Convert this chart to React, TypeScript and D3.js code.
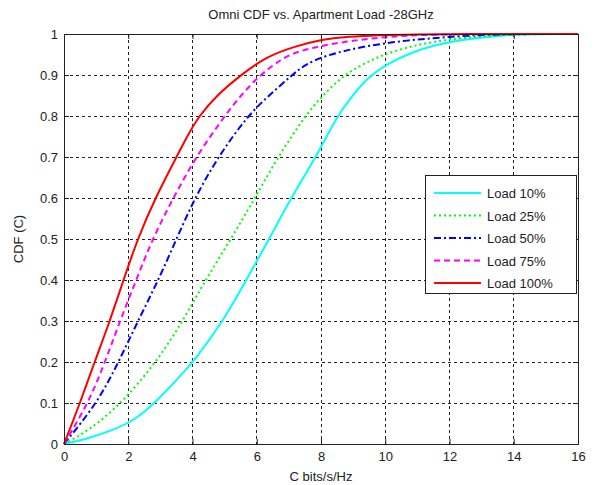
import React, { useEffect, useRef } from 'react';
import * as d3 from 'd3';

// values (C in bits/s/Hz, CDF)
const xTicks = [0, 2, 4, 6, 8, 10, 12, 14, 16];
const yTicks = [0, 0.1, 0.2, 0.3, 0.4, 0.5, 0.6, 0.7, 0.8, 0.9, 1];

const load10 = [[0, 0], [0.6, 0.01], [1.53, 0.034], [2.2, 0.058], [2.83, 0.1], [3.6, 0.164], [4.02, 0.2], [4.96, 0.3], [5.67, 0.4], [6.39, 0.5], [7.06, 0.6], [7.85, 0.7], [8.5, 0.8], [8.94, 0.846], [9.4, 0.89], [10.0, 0.925], [10.9, 0.959], [12.05, 0.983], [13.4, 0.995], [14.3, 1], [16, 1]];
const load25 = [[0, 0], [0.8, 0.034], [1.8, 0.1], [2.88, 0.2], [3.7, 0.3], [4.4, 0.4], [5.2, 0.5], [5.94, 0.6], [6.66, 0.7], [7.5, 0.8], [8.05, 0.85], [8.7, 0.9], [9.5, 0.935], [10.3, 0.96], [11.5, 0.983], [13, 0.995], [14.3, 1], [16, 1]];
const load50 = [[0, 0], [1.04, 0.1], [1.7, 0.2], [2.3, 0.3], [2.94, 0.4], [3.5, 0.5], [4.07, 0.6], [4.79, 0.7], [5.71, 0.8], [6.38, 0.85], [7.1, 0.9], [7.5, 0.925], [8.1, 0.947], [9.3, 0.97], [10.7, 0.985], [12, 0.993], [13.4, 1], [16, 1]];
const load75 = [[0, 0], [0.76, 0.1], [1.28, 0.2], [1.74, 0.3], [2.25, 0.4], [2.75, 0.5], [3.4, 0.6], [4.1, 0.7], [5.0, 0.8], [5.5, 0.85], [6.1, 0.9], [6.7, 0.935], [7.2, 0.958], [8.76, 0.983], [10.3, 0.995], [11.8, 1], [16, 1]];
const load100 = [[0, 0], [0.5, 0.1], [0.95, 0.2], [1.43, 0.3], [1.85, 0.4], [2.29, 0.5], [2.84, 0.6], [3.5, 0.7], [3.83, 0.75], [4.2, 0.8], [4.75, 0.85], [5.5, 0.9], [6.3, 0.945], [7.2, 0.97], [8, 0.986], [8.75, 0.993], [10.3, 1], [16, 1]];

const series = [
  { name: 'Load 10%', data: load10, color: '#00ffff', dash: null },
  { name: 'Load 25%', data: load25, color: '#00ff00', dash: '2,3' },
  { name: 'Load 50%', data: load50, color: '#0000ff', dash: '7,3,2,3' },
  { name: 'Load 75%', data: load75, color: '#ff00ff', dash: '6,4' },
  { name: 'Load 100%', data: load100, color: '#ff0000', dash: null },
];

const W = 596;
const H = 485;
const margin = { top: 34, right: 18, bottom: 41, left: 64 };
const font = '"Liberation Sans", Arial, sans-serif';

const App = () => {
  const svgRef = useRef<SVGSVGElement>(null);

  useEffect(() => {
    const svg = d3.select(svgRef.current);
    svg.selectAll('*').remove();
    const width = W - margin.left - margin.right;
    const height = H - margin.top - margin.bottom;

    const x = d3.scaleLinear().domain([0, 16]).range([0, width]);
    const y = d3.scaleLinear().domain([0, 1]).range([height, 0]);

    svg.append('rect').attr('width', W).attr('height', H).attr('fill', '#fff');
    const g = svg.append('g').attr('transform', `translate(${margin.left},${margin.top})`);

    // grid
    g.selectAll('.gx').data(xTicks.slice(1, -1)).enter().append('line')
      .attr('x1', d => x(d)).attr('x2', d => x(d)).attr('y1', 0).attr('y2', height)
      .attr('stroke', '#222').attr('stroke-dasharray', '3,3').attr('stroke-width', 1).attr('shape-rendering', 'crispEdges');
    g.selectAll('.gy').data(yTicks.slice(1, -1)).enter().append('line')
      .attr('y1', d => y(d)).attr('y2', d => y(d)).attr('x1', 0).attr('x2', width)
      .attr('stroke', '#222').attr('stroke-dasharray', '3,3').attr('stroke-width', 1).attr('shape-rendering', 'crispEdges');

    // curves (smoothed through the read-off points)
    const line = d3.line<number[]>().x(d => x(d[0])).y(d => y(d[1])).curve(d3.curveBasis);
    series.forEach(s => {
      g.append('path').datum(s.data).attr('d', line).attr('fill', 'none')
        .attr('stroke', s.color).attr('stroke-width', 2)
        .attr('stroke-dasharray', s.dash);
    });

    // axes box + ticks
    const ax = d3.axisBottom(x).tickValues(xTicks).tickSize(-5).tickPadding(8).tickFormat(d3.format('d'));
    const ay = d3.axisLeft(y).tickValues(yTicks).tickSize(-5).tickPadding(6).tickFormat(d => (d === 0 || d === 1 ? String(d) : d3.format('.1f')(d as number)));
    const bx = g.append('g').attr('transform', `translate(0,${height})`).call(ax);
    const by = g.append('g').call(ay);
    g.append('g').call(d3.axisTop(x).tickValues(xTicks).tickSize(-5).tickFormat(() => ''));
    g.append('g').attr('transform', `translate(${width},0)`).call(d3.axisRight(y).tickValues(yTicks).tickSize(-5).tickFormat(() => ''));
    g.selectAll('.domain').remove();
    g.selectAll('.tick line').attr('stroke', '#222');
    [bx, by].forEach(a => a.selectAll('text').attr('font-family', font).attr('font-size', 13).attr('fill', '#222'));
    g.append('rect').attr('width', width).attr('height', height).attr('fill', 'none')
      .attr('stroke', '#222').attr('stroke-width', 1).attr('shape-rendering', 'crispEdges');

    // labels
    svg.append('text').attr('x', margin.left + width / 2).attr('y', 19).attr('text-anchor', 'middle')
      .attr('font-family', font).attr('font-size', 13).attr('fill', '#222').text('Omni CDF vs. Apartment Load -28GHz');
    svg.append('text').attr('x', margin.left + width / 2).attr('y', 481).attr('text-anchor', 'middle')
      .attr('font-family', font).attr('font-size', 13).attr('fill', '#222').text('C bits/s/Hz');
    svg.append('text').attr('transform', `translate(23,${margin.top + height / 2}) rotate(-90)`).attr('text-anchor', 'middle')
      .attr('font-family', font).attr('font-size', 13).attr('fill', '#222').text('CDF (C)');

    // legend
    const lg = svg.append('g').attr('transform', 'translate(425,175)');
    lg.append('rect').attr('width', 151).attr('height', 118).attr('fill', '#fff')
      .attr('stroke', '#222').attr('stroke-width', 1).attr('shape-rendering', 'crispEdges');
    series.forEach((s, i) => {
      const ly = 18 + i * 22.5;
      lg.append('line').attr('x1', 9).attr('x2', 56).attr('y1', ly).attr('y2', ly)
        .attr('stroke', s.color).attr('stroke-width', 2).attr('stroke-dasharray', s.dash);
      lg.append('text').attr('x', 62).attr('y', ly + 5).attr('font-family', font).attr('font-size', 13)
        .attr('fill', '#222').text(s.name);
    });
  }, []);

  return (
    <svg ref={svgRef} width={W} height={H} style={{ position: 'absolute', left: 0, top: 0 }} />
  );
};

export default App;
